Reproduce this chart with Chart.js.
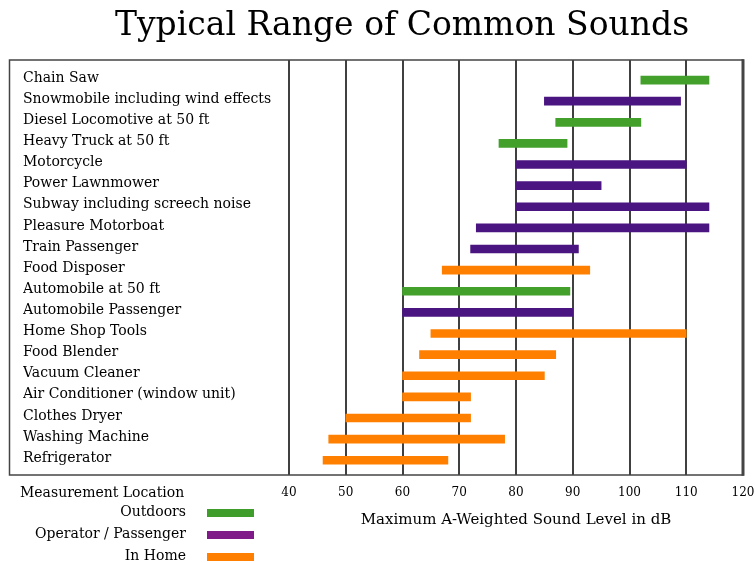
<!DOCTYPE html>
<html>
<head>
<meta charset="utf-8">
<title>Typical Range of Common Sounds</title>
<script src="https://cdn.jsdelivr.net/npm/chart.js@4"></script>
<style>
  html, body { margin: 0; padding: 0; background: #fff; }
</style>
</head>
<body>
<canvas id="soundChart" width="755" height="563"></canvas>
<script>
const categories = [
    "Chain Saw",
    "Snowmobile including wind effects",
    "Diesel Locomotive at 50 ft",
    "Heavy Truck at 50 ft",
    "Motorcycle",
    "Power Lawnmower",
    "Subway including screech noise",
    "Pleasure Motorboat",
    "Train Passenger",
    "Food Disposer",
    "Automobile at 50 ft",
    "Automobile Passenger",
    "Home Shop Tools",
    "Food Blender",
    "Vacuum Cleaner",
    "Air Conditioner (window unit)",
    "Clothes Dryer",
    "Washing Machine",
    "Refrigerator",
];
const lowLevels = [102, 85, 87, 77, 80, 80, 80, 73, 72, 67, 60, 60, 65, 63, 60, 60, 50, 47, 46];
const highLevels = [114, 109, 102, 89, 110, 95, 114, 114, 91, 93, 89.5, 90, 110, 87, 85, 72, 72, 78, 68];
// 0 = Outdoors, 1 = Operator / Passenger, 2 = In Home
const locationOf = [0, 1, 0, 0, 1, 1, 1, 1, 1, 2, 0, 1, 2, 2, 2, 2, 2, 2, 2];
const locationNames = ["Outdoors", "Operator / Passenger", "In Home"];
const dbTicks = [40, 50, 60, 70, 80, 90, 100, 110, 120];

const barColors = ["#42a02b", "#4b1581", "#ff8000"];
const legendColors = ["#3f9e2b", "#7f1a88", "#ff8000"];
const labelFont = "DejaVu Serif";

const datasets = locationNames.map((name, k) => ({
    label: name,
    data: categories
        .map((c, i) => (locationOf[i] === k ? { x: [lowLevels[i], highLevels[i]], y: i } : null))
        .filter(Boolean),
    backgroundColor: barColors[k],
    borderWidth: 0,
    barThickness: 8,
    grouped: false,
}));

// title, outer frame and the measurement-location key
const decorations = {
    id: "decorations",
    afterDraw(chart) {
        const { ctx, chartArea } = chart;
        ctx.save();
        ctx.fillStyle = "#000";
        ctx.font = `33px ${labelFont}`;
        ctx.textAlign = "center";
        ctx.textBaseline = "alphabetic";
        ctx.fillText("Typical Range of Common Sounds", 402, 35);

        ctx.strokeStyle = "#444";
        ctx.lineWidth = 1.5;
        ctx.strokeRect(9.5, chartArea.top, chartArea.right - 9.5, chartArea.bottom - chartArea.top);
        ctx.lineWidth = 3;
        ctx.beginPath();
        ctx.moveTo(chartArea.right, chartArea.top - 0.75);
        ctx.lineTo(chartArea.right, chartArea.bottom + 0.75);
        ctx.stroke();

        ctx.font = `14px ${labelFont}`;
        ctx.textBaseline = "middle";
        ctx.textAlign = "left";
        ctx.fillText("Measurement Location", 20, 493);
        ctx.textAlign = "right";
        const rows = [512, 534, 556];
        locationNames.forEach((name, k) => {
            ctx.fillStyle = "#000";
            ctx.fillText(name, 186, rows[k]);
            ctx.fillStyle = legendColors[k];
            ctx.fillRect(207, rows[k] - 3, 47, 8);
        });
        ctx.restore();
    },
};

new Chart(document.getElementById("soundChart"), {
    type: "bar",
    data: { datasets },
    plugins: [decorations],
    options: {
        indexAxis: "y",
        responsive: false,
        animation: false,
        layout: { padding: { left: 23, right: 0, top: 60, bottom: 0 } },
        plugins: { legend: { display: false }, tooltip: { enabled: false } },
        scales: {
            x: {
                type: "linear",
                min: 40,
                max: 120,
                afterBuildTicks: (scale) => { scale.ticks = dbTicks.map((v) => ({ value: v })); },
                afterFit: (scale) => {
                    scale.height = 88;
                    scale.paddingLeft = 0;
                    scale.paddingRight = 12;
                },
                grid: { color: "#404040", lineWidth: 2, drawTicks: false },
                border: { display: false },
                ticks: { color: "#000", padding: 11, font: { family: labelFont, size: 12 } },
                title: {
                    display: true,
                    text: "Maximum A-Weighted Sound Level in dB",
                    color: "#000",
                    font: { family: labelFont, size: 15 },
                    padding: { top: 0, bottom: 34 },
                },
            },
            y: {
                type: "linear",
                reverse: true,
                offset: false,
                min: -0.95,
                max: 18.7,
                afterBuildTicks: (scale) => { scale.ticks = categories.map((c, i) => ({ value: i })); },
                afterFit: (scale) => { scale.width = 266; },
                grid: { display: false },
                border: { display: false },
                ticks: {
                    crossAlign: "far",
                    autoSkip: false,
                    labelOffset: -2,
                    color: "#000",
                    font: { family: labelFont, size: 14 },
                    callback: (v) => categories[v] ?? "",
                },
            },
        },
    },
});
</script>
</body>
</html>
